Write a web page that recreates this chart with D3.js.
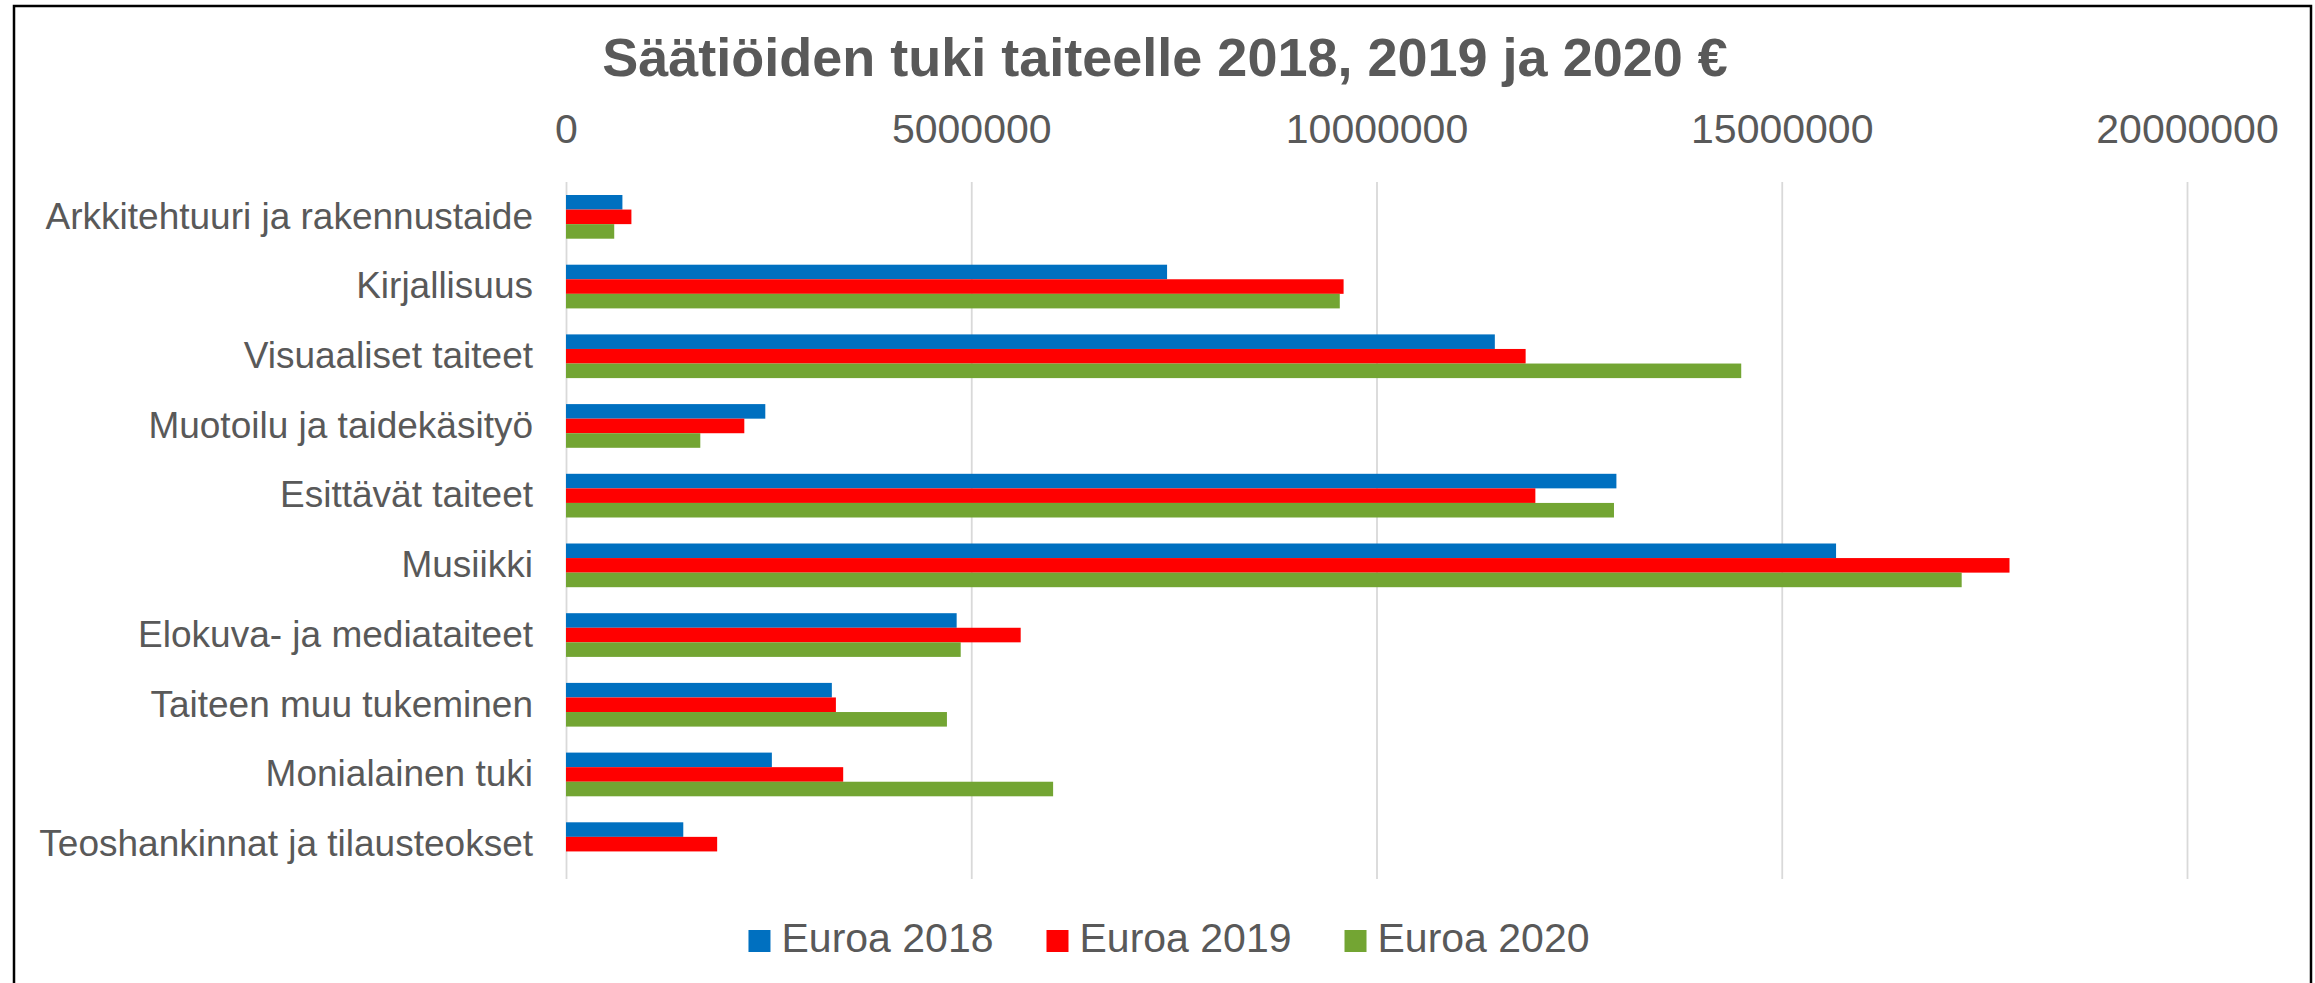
<!DOCTYPE html>
<html>
<head>
<meta charset="utf-8">
<script src="https://cdn.jsdelivr.net/npm/d3@7"></script>
<style>
  body { margin: 0; background: #fff; }
  svg { display: block; }
  text { font-family: "Liberation Sans", Arial, sans-serif; fill: #595959; }
</style>
</head>
<body>
<svg id="chart" width="2315" height="983"></svg>
<script>
// data (euros)
const categories = [
  "Arkkitehtuuri ja rakennustaide",
  "Kirjallisuus",
  "Visuaaliset taiteet",
  "Muotoilu ja taidekäsityö",
  "Esittävät taiteet",
  "Musiikki",
  "Elokuva- ja mediataiteet",
  "Taiteen muu tukeminen",
  "Monialainen tuki",
  "Teoshankinnat ja tilausteokset"
];
const seriesNames = ["Euroa 2018", "Euroa 2019", "Euroa 2020"];
const euroa2018 = [696000, 7416000, 11460000, 2459000, 12960000, 15670000, 4820000, 3280000, 2540000, 1447000];
const euroa2019 = [807000, 9594000, 11840000, 2200000, 11960000, 17810000, 5610000, 3330000, 3420000, 1865000];
const euroa2020 = [595000, 9547000, 14500000, 1657000, 12930000, 17220000, 4870000, 4700000, 6010000, 0];
const tickValues = [0, 5000000, 10000000, 15000000, 20000000];
const colors = ["#0070C0", "#FF0000", "#73A533"];

const values = [euroa2018, euroa2019, euroa2020];
const rows = categories.map((c, i) => ({cat: c, vals: values.map((v, s) => ({s: s, v: v[i]}))}));

const svg = d3.select("#chart");
svg.append("rect").attr("width", 2315).attr("height", 983).attr("fill", "#fff");

// chart border (open at the bottom edge of the picture)
svg.append("rect")
  .attr("x", 14).attr("y", 6)
  .attr("width", 2297).attr("height", 1000)
  .attr("fill", "none").attr("stroke", "#000").attr("stroke-width", 2.5);

const plotTop = 182, plotBottom = 879;
const x = d3.scaleLinear().domain([0, 20000000]).range([566, 2187]);
const y = d3.scaleBand().domain(categories).range([plotTop, plotBottom])
  .paddingInner(0.373).paddingOuter(0.1865);
const ySub = d3.scaleBand().domain(d3.range(seriesNames.length)).range([0, y.bandwidth()]);

// title
svg.append("text")
  .attr("x", 1165).attr("y", 76)
  .attr("text-anchor", "middle")
  .style("font-size", "54px").style("font-weight", "bold")
  .text("Säätiöiden tuki taiteelle 2018, 2019 ja 2020 €");

// gridlines
const grid = svg.append("g")
  .attr("transform", `translate(0,${plotTop})`)
  .call(d3.axisBottom(x).tickValues(tickValues).tickSize(plotBottom - plotTop).tickFormat(""));
grid.select(".domain").remove();
grid.selectAll("line").attr("stroke", "#d9d9d9").attr("stroke-width", 1.8);

// top value labels
const xAxis = svg.append("g")
  .attr("transform", "translate(0,143)")
  .call(d3.axisTop(x).tickValues(tickValues).tickSize(0).tickPadding(0).tickFormat(d3.format("d")));
xAxis.select(".domain").remove();
xAxis.selectAll("text").style("font-size", "41px").attr("fill", "#595959")
  .style("font-family", "'Liberation Sans', Arial, sans-serif");

// category labels
const yAxis = svg.append("g")
  .attr("transform", "translate(533,0)")
  .call(d3.axisLeft(y).tickSize(0).tickPadding(0));
yAxis.select(".domain").remove();
yAxis.selectAll("text").style("font-size", "37px").attr("fill", "#595959")
  .style("font-family", "'Liberation Sans', Arial, sans-serif");

// bars
const groups = svg.append("g").selectAll("g")
  .data(rows).join("g")
  .attr("transform", d => `translate(0,${y(d.cat)})`);
groups.selectAll("rect")
  .data(d => d.vals).join("rect")
  .attr("x", x(0))
  .attr("y", d => ySub(d.s))
  .attr("width", d => x(d.v) - x(0))
  .attr("height", ySub.bandwidth())
  .attr("fill", d => colors[d.s]);

// legend, centred under the plot
const legend = svg.append("g");
const items = legend.selectAll("g").data(seriesNames).join("g");
items.append("rect").attr("y", -22).attr("width", 22).attr("height", 22)
  .attr("fill", (d, i) => colors[i]);
items.append("text").attr("x", 33).attr("y", 0)
  .style("font-size", "41px").text(d => d);
let cx = 0;
items.each(function() {
  const w = this.getBBox().width;
  d3.select(this).attr("transform", `translate(${cx},0)`);
  cx += w + 53;
});
const total = cx - 53;
legend.attr("transform", `translate(${1169 - total / 2},952)`);
</script>
</body>
</html>
